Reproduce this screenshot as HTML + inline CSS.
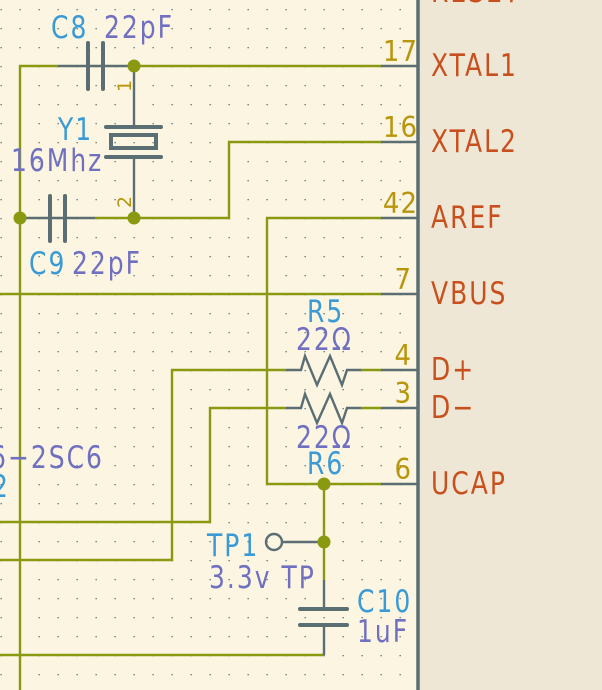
<!DOCTYPE html>
<html><head><style>
html,body{margin:0;padding:0;background:#fdf6e3;}
svg{display:block}
text{font-family:"DejaVu Sans","Liberation Sans",sans-serif;}
</style></head><body>
<svg width="602" height="690" xmlns="http://www.w3.org/2000/svg">
<defs>
<pattern id="g" x="0" y="0" width="19" height="19" patternUnits="userSpaceOnUse">
<rect x="0.5" y="9" width="1.3" height="1.3" fill="#5a6e74"/>
</pattern>
</defs>
<rect width="602" height="690" fill="#fcf5e2"/>
<rect width="418" height="690" fill="url(#g)"/>
<rect x="418" y="0" width="184" height="690" fill="#efe7d6"/>
<line x1="418" y1="0" x2="418" y2="690" stroke="#5a6e74" stroke-width="3.5"/>

<g fill="none" stroke="#8a9a10" stroke-width="2.4">
<polyline points="20,690 20,66 58,66"/>
<line x1="134" y1="66" x2="381" y2="66"/>
<polyline points="134,218 229,218 229,142 381,142"/>
<line x1="95" y1="218" x2="134" y2="218"/>
<polyline points="381,218 267,218 267,484 381,484"/>
<line x1="0" y1="294" x2="381" y2="294"/>
<polyline points="0,560 172,560 172,370 286,370"/>
<polyline points="0,522 210,522 210,408 286,408"/>
<line x1="361" y1="370" x2="381" y2="370"/>
<line x1="361" y1="408" x2="381" y2="408"/>
<polyline points="324,484 324,580"/>
<polyline points="0,655 324,655"/>
</g>

<g fill="none" stroke="#5a6e74" stroke-width="2.4">
<line x1="381" y1="66" x2="417" y2="66"/>
<line x1="381" y1="142" x2="417" y2="142"/>
<line x1="381" y1="218" x2="417" y2="218"/>
<line x1="381" y1="294" x2="417" y2="294"/>
<line x1="381" y1="370" x2="417" y2="370"/>
<line x1="381" y1="408" x2="417" y2="408"/>
<line x1="381" y1="484" x2="417" y2="484"/>
<line x1="58" y1="66" x2="134" y2="66"/>
<line x1="20" y1="218" x2="95" y2="218"/>
<line x1="134" y1="66" x2="134" y2="127"/>
<line x1="134" y1="157" x2="134" y2="218"/>
<polyline points="286,370 301,370 305,356 317,385 330,356 342,385 347,370 361,370"/>
<polyline points="286,408 301,408 305,394 317,423 330,394 342,423 347,408 361,408"/>
<line x1="282" y1="542" x2="324" y2="542"/>
<line x1="324" y1="580" x2="324" y2="609"/>
<polyline points="324,625 324,655"/>
<circle cx="274" cy="542" r="8"/>
</g>
<g stroke="#5a6e74" stroke-width="4" stroke-linecap="round" fill="none">
<line x1="88" y1="43" x2="88" y2="89"/>
<line x1="103" y1="43" x2="103" y2="89"/>
<line x1="50" y1="196" x2="50" y2="241"/>
<line x1="65" y1="196" x2="65" y2="241"/>
<line x1="106" y1="127" x2="161" y2="127"/>
<line x1="106" y1="157" x2="161" y2="157"/>
<rect x="111" y="135" width="45" height="13"/>
<line x1="300" y1="609" x2="347" y2="609"/>
<line x1="300" y1="625" x2="347" y2="625"/>
</g>
<g fill="#8a9a10">
<circle cx="134" cy="66" r="6.5"/>
<circle cx="134" cy="218" r="6.5"/>
<circle cx="20" cy="218" r="6.5"/>
<circle cx="324" cy="484" r="6.5"/>
<circle cx="324" cy="542" r="6.5"/>
</g>

<g font-size="25" fill="#c8501e" letter-spacing="2">
<text transform="translate(431 2) scale(1 1.25)">RESET</text>
<text transform="translate(431 76) scale(1 1.25)">XTAL1</text>
<text transform="translate(431 152) scale(1 1.25)">XTAL2</text>
<text transform="translate(431 228) scale(1 1.25)">AREF</text>
<text transform="translate(431 304) scale(1 1.25)">VBUS</text>
<text transform="translate(431 380) scale(1 1.25)">D+</text>
<text transform="translate(431 418) scale(1 1.25)">D−</text>
<text transform="translate(431 494) scale(1 1.25)">UCAP</text>
</g>
<g font-size="26" fill="#b8960c" text-anchor="end" letter-spacing="1">
<text transform="translate(418 61) scale(1 1.1)">17</text>
<text transform="translate(418 137) scale(1 1.1)">16</text>
<text transform="translate(418 213) scale(1 1.1)">42</text>
<text transform="translate(412 289) scale(1 1.1)">7</text>
<text transform="translate(412 365) scale(1 1.1)">4</text>
<text transform="translate(412 403) scale(1 1.1)">3</text>
<text transform="translate(412 479) scale(1 1.1)">6</text>
</g>
<g font-size="19" fill="#b8960c">
<text transform="translate(131,92) rotate(-90)">1</text>
<text transform="translate(131,208) rotate(-90)">2</text>
</g>
<g font-size="25" fill="#3a9ad6" letter-spacing="2">
<text transform="translate(51 38) scale(1 1.25)">C8</text>
<text transform="translate(58 140) scale(1 1.25)">Y1</text>
<text transform="translate(29 274) scale(1 1.25)">C9</text>
<text transform="translate(307 322) scale(1 1.25)">R5</text>
<text transform="translate(307 474) scale(1 1.25)">R6</text>
<text transform="translate(207 556) scale(1 1.25)">TP1</text>
<text transform="translate(357 612) scale(1 1.25)">C10</text>
<text transform="translate(-8 497) scale(1 1.25)">2</text>
</g>
<g font-size="25" fill="#7070c0" letter-spacing="2">
<text transform="translate(104 38) scale(1 1.25)">22pF</text>
<text transform="translate(11 171) scale(1 1.25)">16Mhz</text>
<text transform="translate(72 274) scale(1 1.25)">22pF</text>
<text transform="translate(296 350) scale(1 1.25)">22Ω</text>
<text transform="translate(296 448) scale(1 1.25)">22Ω</text>
<text transform="translate(209 588) scale(1 1.25)">3.3v TP</text>
<text transform="translate(357 642) scale(1 1.25)">1uF</text>
<text transform="translate(-10 468) scale(1 1.25)">6−2SC6</text>
</g>
</svg>
</body></html>
